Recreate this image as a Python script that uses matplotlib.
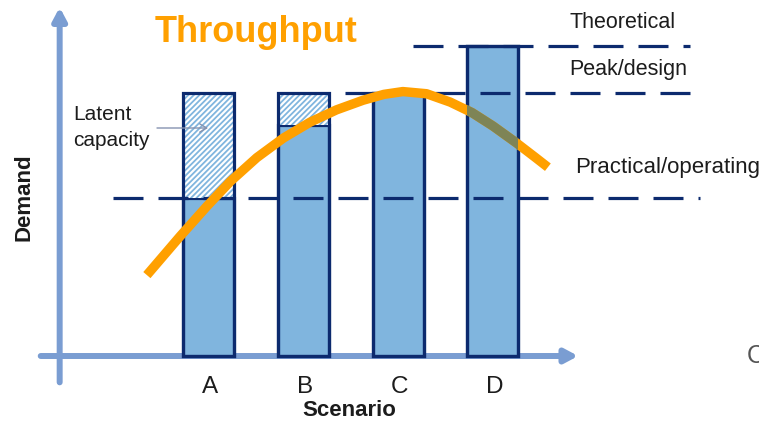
import matplotlib
matplotlib.use("Agg")
import matplotlib.pyplot as plt
from matplotlib.patches import Rectangle

plt.rcParams['font.family'] = ['Liberation Sans', 'DejaVu Sans']
plt.rcParams['lines.scale_dashes'] = False
plt.rcParams['hatch.linewidth'] = 1.3

# ---- data ----
scenarios = ['A', 'B', 'C', 'D']
demand = [51, 74.5, 85, 100]          # filled (used) capacity
capacity = [85, 85, 85, 100]          # bar total height
level_names = ['Theoretical', 'Peak/design', 'Practical/operating']
level_values = [100, 85, 51]

curve_x = [-0.65, -0.30, -0.02, 0.23, 0.51, 0.79, 1.07, 1.35, 1.63, 1.85,
           2.05, 2.30, 2.55, 2.78, 3.00, 3.25, 3.45, 3.58]
curve_y = [26.1, 38.6, 48.2, 56.3, 64.0, 70.3, 75.4, 79.4, 82.5, 84.4,
           85.3, 84.6, 81.9, 78.5, 74.2, 68.7, 64.0, 60.9]

# ---- styles ----
W, H = 759, 422
NAVY = '#0c2a6e'
FILL = '#80b5de'
AXC = '#7a9dd2'
ORANGE = '#ffa000'
OLIVE = '#7e8456'
TXT = '#1c1c1c'

fig = plt.figure(figsize=(W / 100, H / 100), dpi=100)
ax = fig.add_axes([0, 0, 1, 1])
ax.set_xlim(-2.1994, 5.807)
ax.set_ylim(-21.29, 114.84)
ax.axis('off')

pos = list(range(len(scenarios)))
bw = 0.54

# axes arrows
ax.annotate('', xy=(-1.57, 112.5), xytext=(-1.57, -8.5),
            arrowprops=dict(arrowstyle='-|>,head_length=0.75,head_width=0.4',
                            color=AXC, lw=4.3, shrinkA=0, shrinkB=0))
ax.annotate('', xy=(3.90, 0), xytext=(-1.77, 0),
            arrowprops=dict(arrowstyle='-|>,head_length=0.75,head_width=0.4',
                            color=AXC, lw=4.3, shrinkA=0, shrinkB=0))

# bars: used part
ax.bar(pos, demand, width=bw, color=FILL, edgecolor=NAVY, linewidth=2.3, zorder=3)
# latent part (hatched)
latent = [c - d for c, d in zip(capacity, demand)]
ax.bar(pos, latent, bottom=demand, width=bw, color='white', edgecolor=FILL,
       hatch='//////', linewidth=0, zorder=3)
outline = ax.bar(pos, capacity, width=bw, fill=False, edgecolor=NAVY,
                 linewidth=2.3, zorder=4)

# capacity levels (dashed)
x_ranges = [(2.157, 5.08), (1.44, 5.08), (-1.007, 5.185)]
for lv, (x0, x1) in zip(level_values, x_ranges):
    ax.plot([x0, x1], [lv, lv], color=NAVY, lw=2.3, dashes=(21.6, 10.8),
            solid_capstyle='butt', dash_capstyle='butt', zorder=5)

# throughput curve
ax.plot(curve_x, curve_y, color=ORANGE, lw=6.8, solid_capstyle='butt',
        solid_joinstyle='round', zorder=6)
d = outline.patches[3]
clip = Rectangle(d.get_xy(), d.get_width(), d.get_height(), transform=ax.transData)
ln, = ax.plot(curve_x, curve_y, color=OLIVE, lw=6.8, solid_capstyle='butt',
              solid_joinstyle='round', zorder=7)
ln.set_clip_path(clip)

# tick labels
for p, s in zip(pos, scenarios):
    ax.text(p + 0.02, -9.9, s, ha='center', va='center', fontsize=17.5, color=TXT)

def px(x, y):
    return x / W, 1 - y / H

fig.text(*px(349, 410), 'Scenario', ha='center', va='center', fontsize=16,
         fontweight='bold', color=TXT)
fig.text(*px(24, 197), 'Demand', ha='center', va='center', fontsize=16,
         fontweight='bold', rotation=90, color=TXT)
fig.text(*px(256, 33), 'Throughput', ha='center', va='center', fontsize=26,
         fontweight='bold', color=ORANGE)
fig.text(*px(569, 22), level_names[0], ha='left', va='center', fontsize=15.5, color=TXT)
fig.text(*px(569, 70), level_names[1], ha='left', va='center', fontsize=15.5, color=TXT)
fig.text(*px(575, 167), level_names[2], ha='left', va='center', fontsize=16, color=TXT)
fig.text(*px(73, 115), 'Latent', ha='left', va='center', fontsize=15, color=TXT)
fig.text(*px(73, 140), 'capacity', ha='left', va='center', fontsize=15, color=TXT)
fig.text(*px(747, 356), 'C', ha='left', va='center', fontsize=18, color='#555555')

ax.annotate('', xy=(208, H - 128), xytext=(157, H - 128),
            xycoords='figure pixels', textcoords='figure pixels',
            arrowprops=dict(arrowstyle='->,head_length=0.5,head_width=0.3',
                            color='#8593b0', lw=1.0, shrinkA=0, shrinkB=0),
            zorder=5)

fig.savefig('out.png', dpi=100)
